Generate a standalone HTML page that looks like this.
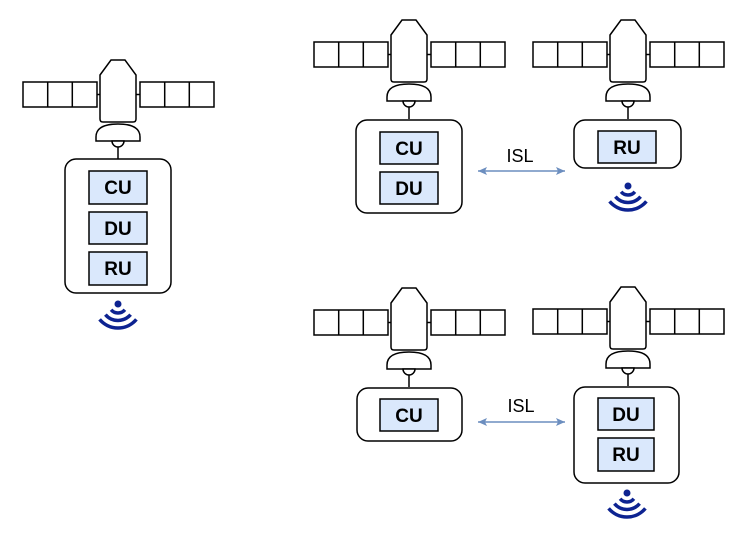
<!DOCTYPE html>
<html><head><style>body{margin:0;background:#fff}svg{display:block}</style></head><body>
<svg width="747" height="544" viewBox="0 0 747 544" xmlns="http://www.w3.org/2000/svg">
<defs>
<g id="sat" fill="#fff" stroke="#000" stroke-width="1.5">
<rect x="-95" y="0" width="74" height="25"/><line x1="-70.3" y1="0" x2="-70.3" y2="25"/><line x1="-45.7" y1="0" x2="-45.7" y2="25"/>
<rect x="22" y="0" width="74" height="25"/><line x1="46.7" y1="0" x2="46.7" y2="25"/><line x1="71.3" y1="0" x2="71.3" y2="25"/>
<line x1="-21" y1="12.5" x2="-18" y2="12.5"/><line x1="18" y1="12.5" x2="22" y2="12.5"/>
<path d="M-18,-7 L-7,-22 L7,-22 L18,-7 L18,37 Q18,40 15,40 L-15,40 Q-18,40 -18,37 Z"/>
<path d="M-22,59 L-22,55 Q-22,42 0,42 Q22,42 22,55 L22,59 Z"/>
<path d="M-6,59 A6,6 0 0 0 6,59 Z"/>
<line x1="0" y1="65" x2="0" y2="77"/>
</g>
<g id="wifi" fill="none" stroke="#0d2391" stroke-width="3.5">
<circle cx="0" cy="0" r="3.5" fill="#0d2391" stroke="none"/>
<path d="M-6.9,5.8 A9,9 0 0 0 6.9,5.8"/>
<path d="M-12.6,10.6 A16.5,16.5 0 0 0 12.6,10.6"/>
<path d="M-18.4,15.4 A24,24 0 0 0 18.4,15.4"/>
</g>
<marker id="ah" markerWidth="10" markerHeight="10" refX="9" refY="5" orient="auto-start-reverse" markerUnits="userSpaceOnUse"><path d="M0,1 L9,5 L0,9 L2,5 Z" fill="#6c8ebf"/></marker>
</defs>
<g font-family="Liberation Sans, sans-serif" font-weight="bold" font-size="19" text-anchor="middle">
<use href="#sat" x="118" y="82"/>
<rect x="65" y="159" width="106" height="134" rx="11" fill="#fff" stroke="#000" stroke-width="1.5"/>
<rect x="89" y="171" width="58" height="33" fill="#dae8fc" stroke="#000" stroke-width="1.5"/><text x="118" y="194">CU</text>
<rect x="89" y="212" width="58" height="32" fill="#dae8fc" stroke="#000" stroke-width="1.5"/><text x="118" y="235">DU</text>
<rect x="89" y="252" width="58" height="33" fill="#dae8fc" stroke="#000" stroke-width="1.5"/><text x="118" y="275">RU</text>
<use href="#wifi" x="118" y="304"/>
<use href="#sat" x="409" y="42"/>
<rect x="356" y="120" width="106" height="93" rx="11" fill="#fff" stroke="#000" stroke-width="1.5"/>
<rect x="380" y="132" width="58" height="32" fill="#dae8fc" stroke="#000" stroke-width="1.5"/><text x="409" y="155">CU</text>
<rect x="380" y="172" width="58" height="32" fill="#dae8fc" stroke="#000" stroke-width="1.5"/><text x="409" y="195">DU</text>
<use href="#sat" x="628" y="42"/>
<rect x="574" y="120" width="107" height="48" rx="11" fill="#fff" stroke="#000" stroke-width="1.5"/>
<rect x="598" y="131" width="58" height="32" fill="#dae8fc" stroke="#000" stroke-width="1.5"/><text x="627" y="154">RU</text>
<use href="#wifi" x="628" y="186"/>
<use href="#sat" x="409" y="310"/>
<rect x="357" y="388" width="105" height="53" rx="11" fill="#fff" stroke="#000" stroke-width="1.5"/>
<rect x="380" y="399" width="58" height="32" fill="#dae8fc" stroke="#000" stroke-width="1.5"/><text x="409" y="422">CU</text>
<use href="#sat" x="628" y="309"/>
<rect x="574" y="387" width="105" height="96" rx="11" fill="#fff" stroke="#000" stroke-width="1.5"/>
<rect x="598" y="398" width="56" height="32" fill="#dae8fc" stroke="#000" stroke-width="1.5"/><text x="626" y="421">DU</text>
<rect x="598" y="438" width="56" height="33" fill="#dae8fc" stroke="#000" stroke-width="1.5"/><text x="626" y="461">RU</text>
<use href="#wifi" x="627" y="493"/>
</g>
<g font-family="Liberation Sans, sans-serif" font-size="18" text-anchor="middle">
<text x="520" y="162">ISL</text>
<text x="521" y="412">ISL</text>
</g>
<line x1="478" y1="171" x2="565" y2="171" stroke="#6c8ebf" stroke-width="1.5" marker-start="url(#ah)" marker-end="url(#ah)"/>
<line x1="478" y1="422" x2="565" y2="422" stroke="#6c8ebf" stroke-width="1.5" marker-start="url(#ah)" marker-end="url(#ah)"/>
</svg>
</body></html>
